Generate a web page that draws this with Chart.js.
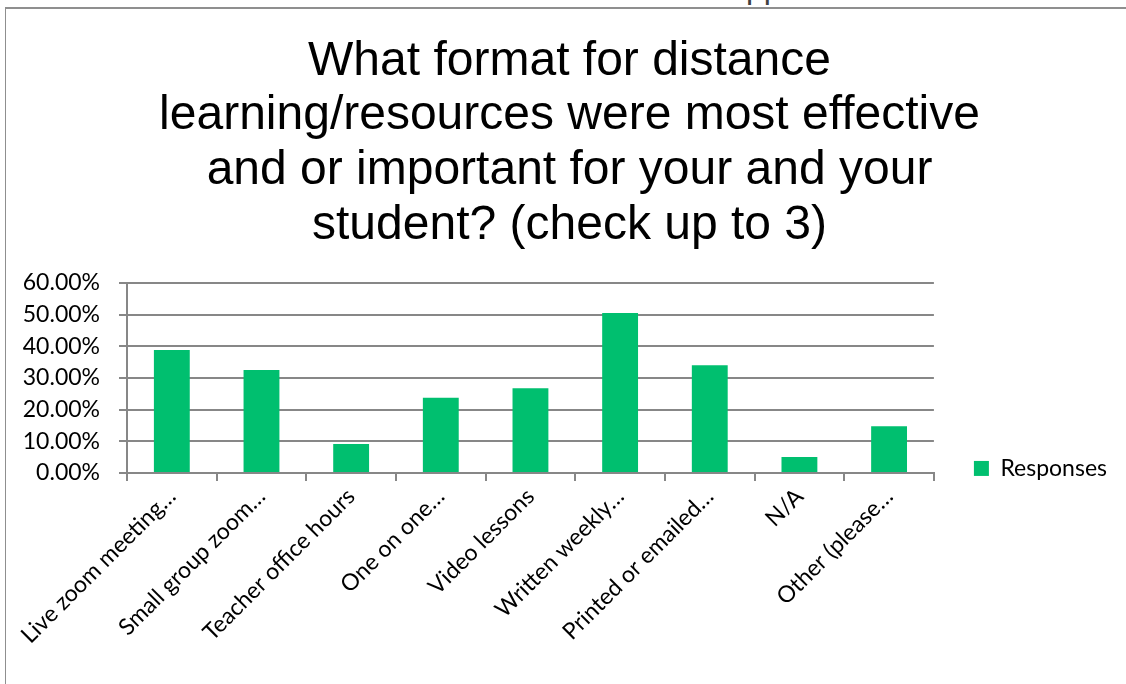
<!DOCTYPE html>
<html>
<head>
<meta charset="utf-8">
<script src="https://cdn.jsdelivr.net/npm/chart.js@4/dist/chart.umd.min.js"></script>
<style>
  html, body { margin: 0; padding: 0; background: #fff; }
  #wrap { position: relative; width: 1126px; height: 684px; overflow: hidden; }
  #frame { position: absolute; left: 5px; top: 7px; right: 0; bottom: -5px;
           border-top: 2px solid #8f8f8f; border-left: 1px solid #8f8f8f; }
  #clip { position: absolute; left: 746px; top: 0; width: 60px; height: 6px; overflow: hidden; }
  #clip span { position: absolute; left: 0; top: -31px; font: 32px "Liberation Sans", Arial, sans-serif; color: #404040; }
  canvas { position: absolute; left: 0; top: 0; }
</style>
</head>
<body>
<div id="wrap">
  <div id="clip"><span>pp</span></div>
  <div id="frame"></div>
  <canvas id="myChart" width="1126" height="684"></canvas>
</div>
<script>
// survey answers (truncated like the original export)
const categories = [
  'Live zoom meeting\u2026',
  'Small group zoom\u2026',
  'Teacher office hours',
  'One on one\u2026',
  'Video lessons',
  'Written weekly\u2026',
  'Printed or emailed\u2026',
  'N/A',
  'Other (please\u2026'
];
// percent of respondents
const responses = [38.8, 32.5, 9.1, 23.7, 26.7, 50.5, 34.0, 5.0, 14.7];
const yTicks = [0, 10, 20, 30, 40, 50, 60];

const titleLines = [
  'What format for distance',
  'learning/resources were most effective',
  'and or important for your and your',
  'student? (check up to 3)'
];

const axisGray = '#878787';
const tickFont = { family: 'Lato, "Open Sans", sans-serif', size: 23 };

// excel centres the legend on plot + category labels, not on the plot only
const legendNudge = {
  id: 'legendNudge',
  afterLayout(chart) {
    const lg = chart.legend;
    lg.top = chart.chartArea.top;
    lg.bottom = chart.height - 30;
  }
};

const ctx = document.getElementById('myChart');
const myChart = new Chart(ctx, {
  type: 'bar',
  data: {
    labels: categories,
    datasets: [{
      label: 'Responses',
      data: responses,
      backgroundColor: '#00BF6F',
      borderWidth: 0,
      categoryPercentage: 1.0,
      barPercentage: 0.4
    }]
  },
  plugins: [legendNudge],
  options: {
    responsive: false,
    animation: false,
    layout: { padding: { top: 18, left: 22, right: 9, bottom: 33 } },
    plugins: {
      title: {
        display: true,
        text: titleLines,
        color: '#000',
        font: { family: '"Liberation Sans", Arial, sans-serif', size: 48, weight: 'normal', lineHeight: 1.14 },
        padding: { top: 16, bottom: 30 }
      },
      legend: {
        display: true,
        position: 'right',
        align: 'center',
        fullSize: false,
        labels: {
          boxWidth: 15,
          boxHeight: 15,
          color: '#000',
          font: tickFont,
          padding: 40
        }
      },
      tooltip: { enabled: false }
    },
    scales: {
      y: {
        min: 0,
        max: 60,
        afterBuildTicks: (axis) => { axis.ticks = yTicks.map(v => ({ value: v })); },
        afterFit: (axis) => { axis.width = 105; },
        ticks: {
          color: '#000',
          font: tickFont,
          padding: 19,
          callback: (v) => v.toFixed(2) + '%'
        },
        grid: { color: axisGray, lineWidth: 2, tickLength: 8 },
        border: { color: axisGray, width: 2 }
      },
      x: {
        ticks: {
          color: '#000',
          font: tickFont,
          minRotation: 45,
          maxRotation: 45,
          padding: 2
        },
        grid: { drawOnChartArea: false, color: axisGray, lineWidth: 2, tickLength: 8, offset: true },
        border: { color: axisGray, width: 2 }
      }
    }
  }
});
</script>
</body>
</html>
